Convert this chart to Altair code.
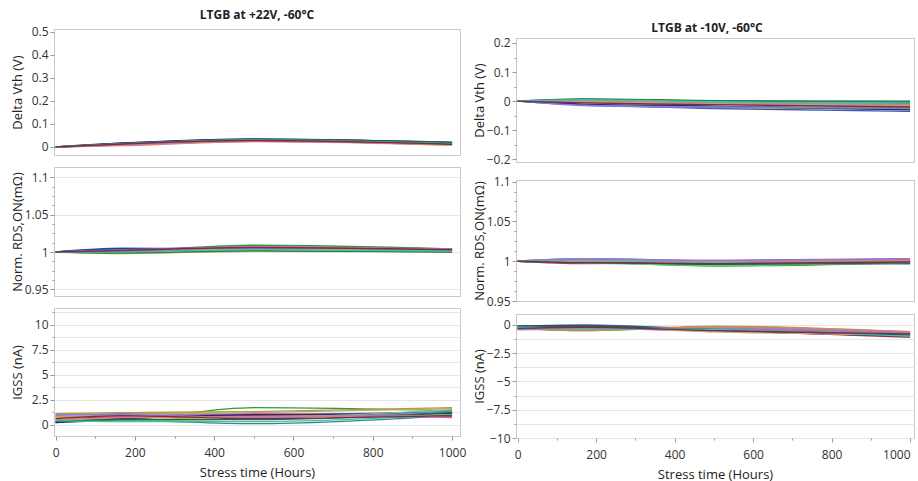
import altair as alt
import pandas as pd

# ---------------- data ----------------
times = [0, 168, 500, 1000]
devices = [f"D{i + 1}" for i in range(16)]
colors = ["#3d5aa8", "#c93a3a", "#2e9a3c", "#9b59c9", "#e0a33a", "#2a8c8c",
          "#d35fa8", "#a3a33a", "#1c2a80", "#6acd6a", "#c8a070", "#8080e0",
          "#1a6b3a", "#e07a7a", "#40c0b0", "#7a2d4a"]

# Left column: LTGB at +22V, -60°C
left_dvth = [
    [0, 0.012, 0.030, 0.015], [0, 0.015, 0.033, 0.018], [0, 0.010, 0.028, 0.012],
    [0, 0.014, 0.035, 0.020], [0, 0.016, 0.032, 0.017], [0, 0.008, 0.025, 0.010],
    [0, 0.013, 0.031, 0.016], [0, 0.011, 0.029, 0.014], [0, 0.017, 0.034, 0.019],
    [0, 0.009, 0.026, 0.008], [0, 0.012, 0.030, 0.013], [0, 0.010, 0.027, 0.011],
    [0, 0.015, 0.033, 0.021], [0, 0.006, 0.024, 0.009], [0, 0.014, 0.031, 0.015],
    [0, 0.013, 0.028, 0.012],
]
left_rds = [
    [1, 1.005, 1.004, 1.002], [1, 1.002, 1.007, 1.003], [1, 1.001, 1.009, 1.004],
    [1, 1.003, 1.006, 1.004], [1, 1.002, 1.005, 1.002], [1, 1.000, 1.004, 1.003],
    [1, 1.001, 1.006, 1.002], [1, 0.998, 1.001, 1.000], [1, 1.004, 1.005, 1.003],
    [1, 0.999, 1.003, 1.001], [1, 1.002, 1.004, 1.002], [1, 1.003, 1.005, 1.004],
    [1, 0.999, 1.002, 1.000], [1, 1.001, 1.007, 1.003], [1, 1.000, 1.003, 1.001],
    [1, 1.002, 1.006, 1.003],
]
left_igss = [
    [0.3, 0.6, 0.9, 1.3], [0.8, 0.7, 0.9, 0.8], [0.4, 0.5, 1.7, 1.4],
    [1.0, 1.1, 1.0, 1.2], [0.7, 0.5, 0.8, 1.0], [0.2, 0.4, 0.1, 0.9],
    [0.9, 0.8, 1.1, 0.7], [1.1, 1.2, 1.3, 1.7], [0.2, 0.6, 1.0, 1.1],
    [0.6, 0.4, 0.6, 1.5], [0.8, 1.0, 1.2, 1.6], [1.0, 1.0, 0.7, 1.3],
    [0.3, 0.5, 0.5, 1.2], [0.5, 0.7, 0.8, 0.9], [0.4, 0.3, 0.3, 1.0],
    [0.6, 0.9, 0.6, 0.9],
]

# Right column: LTGB at -10V, -60°C
right_dvth = [
    [0, -0.012, -0.025, -0.035], [0, 0.002, -0.003, -0.008], [0, 0.008, 0.002, -0.001],
    [0, -0.015, -0.022, -0.025], [0, -0.005, -0.018, -0.022], [0, 0.006, 0.001, 0.000],
    [0, 0.004, -0.006, -0.012], [0, -0.003, -0.020, -0.028], [0, -0.010, -0.017, -0.030],
    [0, 0.003, -0.008, -0.015], [0, -0.002, -0.010, -0.018], [0, -0.014, -0.020, -0.024],
    [0, 0.007, 0.000, -0.005], [0, 0.001, -0.004, -0.010], [0, 0.005, -0.002, -0.006],
    [0, -0.006, -0.012, -0.020],
]
right_rds = [
    [1, 0.999, 0.998, 0.997], [1, 0.997, 0.998, 1.000], [1, 0.999, 0.994, 0.998],
    [1, 1.003, 1.001, 1.003], [1, 1.001, 0.999, 1.001], [1, 0.998, 0.997, 0.998],
    [1, 1.002, 1.000, 1.003], [1, 1.000, 0.998, 0.999], [1, 0.999, 0.997, 0.997],
    [1, 0.998, 0.995, 0.998], [1, 1.001, 0.999, 1.000], [1, 1.003, 1.001, 1.002],
    [1, 0.999, 0.996, 0.998], [1, 1.000, 0.999, 1.001], [1, 1.001, 0.998, 0.999],
    [1, 0.998, 0.997, 0.999],
]
right_igss = [
    [-0.1, 0.0, -0.4, -0.8], [-0.2, -0.3, -0.5, -1.1], [-0.3, -0.5, -0.2, -0.7],
    [-0.4, -0.3, -0.5, -0.6], [-0.2, -0.4, -0.3, -0.9], [-0.1, -0.2, -0.5, -0.8],
    [-0.3, -0.2, -0.3, -0.7], [-0.2, -0.5, -0.1, -0.6], [-0.1, -0.1, -0.5, -1.0],
    [-0.3, -0.3, -0.4, -0.8], [-0.2, -0.2, -0.6, -0.9], [-0.4, -0.4, -0.3, -0.7],
    [-0.1, -0.1, -0.4, -0.9], [-0.3, -0.4, -0.2, -0.6], [-0.2, -0.3, -0.4, -1.0],
    [-0.3, -0.2, -0.5, -0.8],
]

x_ticks = [0, 100, 200, 300, 400, 500, 600, 700, 800, 900, 1000]

FONT = "Open Sans"


def long_df(values):
    rows = []
    for dev, series in zip(devices, values):
        for t, v in zip(times, series):
            rows.append({"device": dev, "time": t, "value": v})
    return pd.DataFrame(rows)


def major_test(step):
    return f"abs(datum.value/{step} - round(datum.value/{step})) < 0.001"


def panel(values, ytitle, ydomain, yvalues, ystep, grid, width, height,
          xdomain, show_x=False, title=None, flush_last=False, minor_grid=True):
    df = long_df(values)
    ykw = dict(
        values=yvalues, title=ytitle, grid=grid, gridColor="#e6e6e6",
        domain=False, tickColor="#999999",
        tickSize={"condition": {"test": major_test(ystep), "value": 4}, "value": 2},
        labelExpr=f"{major_test(ystep)} ? format(datum.value, '~g') : ''",
        labelFont=FONT, labelFontSize=12, labelColor="#333333", labelPadding=2,
        titleFont=FONT, titleFontSize=13, titleFontWeight="normal",
        titleColor="#222222", titleX=-37, titleBaseline="middle",
    )
    if grid and not minor_grid:
        ykw["gridOpacity"] = {"condition": {"test": major_test(ystep), "value": 1}, "value": 0}
    yaxis = alt.Axis(**ykw)
    if show_x:
        xkw = dict(
            values=x_ticks, title="Stress time (Hours)", grid=False, domain=False,
            tickColor="#999999",
            tickSize={"condition": {"test": major_test(200), "value": 4}, "value": 2},
            labelExpr=f"{major_test(200)} ? format(datum.value, '~g') : ''",
            labelFont=FONT, labelFontSize=12, labelColor="#333333", labelPadding=7,
            titleFont=FONT, titleFontSize=13, titleFontWeight="normal",
            titleColor="#222222", titlePadding=8,
        )
        if flush_last:
            xkw["labelAlign"] = {"condition": {"test": "datum.value == 1000", "value": "right"},
                                 "value": "center"}
        xaxis = alt.Axis(**xkw)
    else:
        xaxis = None
    ch = alt.Chart(df).mark_line(interpolate="monotone", strokeWidth=1.4, clip=True).encode(
        x=alt.X("time:Q", scale=alt.Scale(domain=xdomain, nice=False, zero=False), axis=xaxis),
        y=alt.Y("value:Q", scale=alt.Scale(domain=ydomain, nice=False, zero=False), axis=yaxis),
        color=alt.Color("device:N", scale=alt.Scale(domain=devices, range=colors), legend=None),
        detail="device:N",
    ).properties(width=width, height=height)
    if title is not None:
        ch = ch.properties(title=title)
    return ch


def frange(a, b, s):
    out = []
    n = int(round((b - a) / s))
    for i in range(n + 1):
        out.append(round(a + i * s, 6))
    return out


LX = [-4, 1020]
RX = [-4, 1010]

left_title = alt.TitleParams("LTGB at +22V, -60°C", font=FONT, fontSize=12,
                             fontWeight="bold", color="#222222", offset=4)
right_title = alt.TitleParams("LTGB at -10V, -60°C", font=FONT, fontSize=12,
                              fontWeight="bold", color="#222222", offset=-6, dx=-8)

l1 = panel(left_dvth, "Delta Vth (V)", [-0.035, 0.513], frange(0, 0.5, 0.1), 0.1,
           False, 406, 126, LX, title=left_title)
l2 = panel(left_rds, "Norm. RDS,ON(mΩ)", [0.941, 1.114], frange(0.95, 1.1, 0.0125), 0.05,
           True, 406, 129, LX, minor_grid=False)
l3 = panel(left_igss, "IGSS (nA)", [-1.14, 11.65], frange(-1.25, 11.25, 1.25), 2.5,
           True, 406, 128, LX, show_x=True)

# spacer that carries the right column's title and pushes its panels down
spacer = alt.Chart(pd.DataFrame({"a": [0]})).mark_point(opacity=0).encode(
    x=alt.X("a:Q", axis=None), y=alt.Y("a:Q", axis=None)
).properties(width=398, height=6, title=right_title,
             view=alt.ViewBackground(stroke="transparent"))

r1 = panel(right_dvth, "Delta Vth (V)", [-0.209, 0.217], frange(-0.2, 0.2, 0.05), 0.1,
           False, 398, 124, RX)
r2 = panel(right_rds, "Norm. RDS,ON(mΩ)", [0.95, 1.102], frange(0.95, 1.1, 0.0125), 0.05,
           False, 398, 121, RX)
r3 = panel(right_igss, "IGSS (nA)", [-10, 0.97], frange(-10, 0, 1.25), 2.5,
           True, 398, 124, RX, show_x=True, flush_last=True)

left_col = alt.vconcat(l1, l2, l3, spacing=10)
right_top = alt.vconcat(r1, r2, spacing=9)
right_col = alt.vconcat(spacer, alt.vconcat(right_top, r3, spacing=5), spacing=0)

chart = alt.hconcat(left_col, right_col, spacing=5).properties(
    padding={"left": 10, "top": 8, "right": 0, "bottom": 0},
    background="white",
).configure_view(stroke="#c8c8c8", strokeWidth=1)

chart.save("out.html", embed_options={"renderer": "svg", "actions": False})
